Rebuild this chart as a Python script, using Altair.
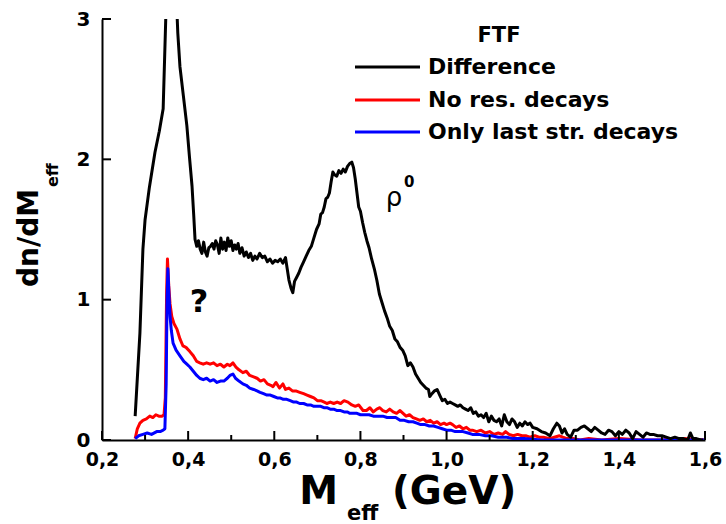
import altair as alt
import pandas as pd

# ---------------- data ----------------
diff_x = [0.277, 0.288, 0.295, 0.300, 0.310, 0.323, 0.333, 0.342, 0.348, 0.352, 0.358, 0.366, 0.372, 0.376,
          0.381, 0.389, 0.397, 0.403, 0.409, 0.413, 0.416, 0.420, 0.424, 0.428, 0.432, 0.436, 0.440, 0.444,
          0.448, 0.452, 0.456, 0.460, 0.464, 0.468, 0.472, 0.476, 0.480, 0.484, 0.488, 0.492, 0.496, 0.500,
          0.504, 0.508, 0.512, 0.516, 0.520, 0.525, 0.530, 0.535, 0.540, 0.545, 0.550, 0.555, 0.560, 0.566,
          0.572, 0.578, 0.584, 0.590, 0.596, 0.602, 0.608, 0.614, 0.620, 0.626, 0.630, 0.634, 0.639, 0.643,
          0.647, 0.652, 0.657, 0.662, 0.668, 0.674, 0.680, 0.686, 0.692, 0.698, 0.704, 0.708, 0.712, 0.716,
          0.720, 0.724, 0.728, 0.732, 0.736, 0.740, 0.745, 0.750, 0.755, 0.760, 0.765, 0.770, 0.775, 0.780,
          0.784, 0.788, 0.792, 0.796, 0.800, 0.805, 0.810, 0.815, 0.820, 0.826, 0.833, 0.838, 0.844, 0.850,
          0.856, 0.862, 0.868, 0.874, 0.880, 0.886, 0.892, 0.898, 0.904, 0.910, 0.916, 0.922, 0.928, 0.934,
          0.940, 0.946, 0.952, 0.958, 0.961, 0.966, 0.972, 0.978, 0.984, 0.990, 0.996, 1.002, 1.008, 1.014,
          1.020, 1.026, 1.032, 1.038, 1.044, 1.050, 1.056, 1.062, 1.068, 1.074, 1.080, 1.086, 1.092, 1.098,
          1.104, 1.110, 1.116, 1.122, 1.128, 1.134, 1.140, 1.146, 1.152, 1.158, 1.164, 1.170, 1.176, 1.182,
          1.188, 1.194, 1.200, 1.210, 1.220, 1.230, 1.240, 1.248, 1.256, 1.262, 1.268, 1.274, 1.280, 1.288,
          1.296, 1.304, 1.312, 1.320, 1.328, 1.336, 1.344, 1.352, 1.360, 1.368, 1.376, 1.384, 1.392, 1.400,
          1.408, 1.416, 1.424, 1.432, 1.440, 1.448, 1.456, 1.464, 1.472, 1.480, 1.490, 1.500, 1.510, 1.520,
          1.530, 1.540, 1.550, 1.560, 1.566, 1.572, 1.580, 1.590, 1.596]
diff_y = [0.17, 0.76, 1.36, 1.57, 1.80, 2.05, 2.20, 2.36, 3.00, 3.80, 4.30, 4.00, 3.20, 2.90,
          2.66, 2.45, 2.24, 2.02, 1.81, 1.60, 1.43, 1.38, 1.42, 1.36, 1.33, 1.41, 1.34, 1.31,
          1.37, 1.38, 1.40, 1.36, 1.42, 1.39, 1.33, 1.44, 1.36, 1.41, 1.35, 1.44, 1.38, 1.42,
          1.35, 1.39, 1.36, 1.40, 1.33, 1.37, 1.31, 1.34, 1.30, 1.33, 1.28, 1.31, 1.29, 1.33,
          1.30, 1.31, 1.27, 1.29, 1.26, 1.28, 1.27, 1.29, 1.26, 1.30, 1.22, 1.14, 1.08, 1.05,
          1.13, 1.16, 1.19, 1.23, 1.27, 1.31, 1.35, 1.38, 1.44, 1.50, 1.54, 1.61, 1.62, 1.66,
          1.72, 1.73, 1.76, 1.84, 1.91, 1.89, 1.88, 1.92, 1.90, 1.93, 1.91, 1.95, 1.97, 1.98,
          1.94, 1.86, 1.76, 1.66, 1.63, 1.55, 1.48, 1.42, 1.37, 1.29, 1.21, 1.14, 1.04, 0.98,
          0.92, 0.87, 0.81, 0.78, 0.72, 0.70, 0.66, 0.64, 0.60, 0.53, 0.55, 0.52, 0.47, 0.44,
          0.41, 0.39, 0.37, 0.36, 0.31, 0.33, 0.35, 0.36, 0.32, 0.28, 0.29, 0.26, 0.27, 0.26,
          0.25, 0.24, 0.25, 0.23, 0.22, 0.21, 0.23, 0.19, 0.20, 0.17, 0.18, 0.16, 0.19, 0.13,
          0.17, 0.14, 0.13, 0.15, 0.10, 0.18, 0.13, 0.11, 0.15, 0.13, 0.09, 0.12, 0.10, 0.13,
          0.11, 0.12, 0.09, 0.08, 0.06, 0.05, 0.03, 0.08, 0.12, 0.10, 0.05, 0.08, 0.04, 0.02,
          0.07, 0.07, 0.09, 0.10, 0.08, 0.06, 0.09, 0.07, 0.05, 0.04, 0.07, 0.06, 0.03, 0.06,
          0.04, 0.07, 0.05, 0.01, 0.06, 0.04, 0.02, 0.05, 0.04, 0.04, 0.03, 0.03, 0.02, 0.01,
          0.02, 0.01, 0.01, 0.00, 0.05, 0.01, 0.01, 0.00, 0.00]

nores_x = [0.277, 0.282, 0.288, 0.295, 0.303, 0.311, 0.318, 0.325, 0.332, 0.339, 0.344, 0.347, 0.350, 0.352,
           0.355, 0.358, 0.362, 0.367, 0.374, 0.381, 0.388, 0.395, 0.404, 0.412, 0.420, 0.427, 0.435, 0.443,
           0.451, 0.459, 0.467, 0.475, 0.483, 0.491, 0.497, 0.504, 0.511, 0.518, 0.527, 0.535, 0.543, 0.552,
           0.560, 0.568, 0.576, 0.584, 0.592, 0.597, 0.604, 0.612, 0.620, 0.626, 0.634, 0.642, 0.650, 0.659,
           0.668, 0.676, 0.684, 0.692, 0.700, 0.708, 0.716, 0.722, 0.730, 0.738, 0.746, 0.754, 0.762, 0.771,
           0.780, 0.788, 0.796, 0.806, 0.814, 0.822, 0.830, 0.838, 0.845, 0.852, 0.860, 0.868, 0.876, 0.884,
           0.892, 0.899, 0.906, 0.914, 0.922, 0.930, 0.938, 0.946, 0.954, 0.962, 0.970, 0.978, 0.986, 0.994,
           1.000, 1.008, 1.014, 1.022, 1.030, 1.038, 1.046, 1.054, 1.060, 1.070, 1.080, 1.090, 1.100, 1.110,
           1.120, 1.130, 1.137, 1.145, 1.155, 1.165, 1.175, 1.185, 1.193, 1.205, 1.215, 1.225, 1.240, 1.250,
           1.262, 1.270, 1.280, 1.293, 1.310, 1.330, 1.360, 1.400, 1.450, 1.500, 1.550, 1.600]
nores_y = [0.01, 0.08, 0.12, 0.14, 0.15, 0.17, 0.16, 0.18, 0.17, 0.17, 0.18, 0.30, 1.05, 1.29,
           1.10, 0.97, 0.88, 0.83, 0.79, 0.72, 0.67, 0.66, 0.63, 0.60, 0.56, 0.55, 0.54, 0.55,
           0.54, 0.55, 0.53, 0.54, 0.52, 0.54, 0.53, 0.55, 0.52, 0.50, 0.48, 0.49, 0.46, 0.45,
           0.44, 0.42, 0.43, 0.40, 0.39, 0.38, 0.41, 0.37, 0.40, 0.36, 0.37, 0.35, 0.35, 0.34,
           0.33, 0.32, 0.31, 0.30, 0.28, 0.28, 0.27, 0.26, 0.27, 0.26, 0.27, 0.26, 0.28, 0.27,
           0.25, 0.24, 0.25, 0.21, 0.21, 0.23, 0.20, 0.22, 0.23, 0.21, 0.20, 0.22, 0.20, 0.19,
           0.21, 0.19, 0.17, 0.18, 0.16, 0.15, 0.14, 0.15, 0.13, 0.14, 0.12, 0.13, 0.11, 0.12,
           0.11, 0.12, 0.11, 0.09, 0.10, 0.08, 0.09, 0.07, 0.07, 0.06, 0.07, 0.05, 0.06, 0.04,
           0.05, 0.04, 0.06, 0.04, 0.03, 0.04, 0.03, 0.03, 0.02, 0.03, 0.02, 0.02, 0.01, 0.02,
           0.03, 0.02, 0.01, 0.01, 0.00, 0.01, 0.00, 0.01, 0.00, 0.00, 0.01, 0.00]

last_x = [0.277, 0.285, 0.295, 0.305, 0.315, 0.327, 0.335, 0.342, 0.346, 0.349, 0.351, 0.353, 0.356, 0.358,
          0.361, 0.365, 0.372, 0.381, 0.390, 0.397, 0.404, 0.412, 0.420, 0.427, 0.435, 0.443, 0.451, 0.459,
          0.467, 0.475, 0.483, 0.491, 0.497, 0.504, 0.510, 0.518, 0.527, 0.535, 0.543, 0.552, 0.560, 0.567,
          0.575, 0.583, 0.591, 0.599, 0.607, 0.613, 0.621, 0.629, 0.637, 0.645, 0.652, 0.659, 0.668, 0.676,
          0.684, 0.692, 0.700, 0.708, 0.715, 0.722, 0.730, 0.738, 0.746, 0.754, 0.762, 0.770, 0.775, 0.784,
          0.792, 0.800, 0.810, 0.820, 0.830, 0.840, 0.852, 0.862, 0.872, 0.882, 0.892, 0.902, 0.912, 0.922,
          0.931, 0.940, 0.950, 0.960, 0.970, 0.980, 0.990, 1.000, 1.010, 1.020, 1.030, 1.038, 1.050, 1.060,
          1.075, 1.090, 1.105, 1.120, 1.140, 1.154, 1.180, 1.220, 1.300, 1.400, 1.500, 1.600]
last_y = [0.01, 0.03, 0.04, 0.05, 0.04, 0.06, 0.06, 0.07, 0.08, 0.40, 1.00, 1.22, 1.00, 0.88,
          0.78, 0.69, 0.64, 0.60, 0.56, 0.54, 0.52, 0.49, 0.46, 0.44, 0.43, 0.44, 0.42, 0.43,
          0.41, 0.42, 0.42, 0.44, 0.46, 0.47, 0.44, 0.42, 0.40, 0.39, 0.37, 0.36, 0.35, 0.34,
          0.33, 0.32, 0.32, 0.31, 0.30, 0.30, 0.29, 0.29, 0.28, 0.27, 0.27, 0.26, 0.26, 0.25,
          0.25, 0.24, 0.24, 0.24, 0.23, 0.23, 0.22, 0.22, 0.21, 0.21, 0.20, 0.20, 0.19, 0.19,
          0.19, 0.18, 0.18, 0.18, 0.17, 0.17, 0.17, 0.16, 0.16, 0.16, 0.14, 0.14, 0.13, 0.13,
          0.12, 0.11, 0.11, 0.10, 0.10, 0.09, 0.08, 0.07, 0.07, 0.06, 0.06, 0.06, 0.05, 0.04,
          0.04, 0.03, 0.03, 0.02, 0.02, 0.01, 0.01, 0.00, 0.00, 0.00, 0.00, 0.00]

series_names = ["Difference", "No res. decays", "Only last str. decays"]
series_colors = ["#000000", "#ff0000", "#0000ff"]
legend_title = "FTF"

x_major = [0.2, 0.4, 0.6, 0.8, 1.0, 1.2, 1.4, 1.6]
x_minor = [0.3, 0.5, 0.7, 0.9, 1.1, 1.3, 1.5]
y_ticks = [0, 1, 2, 3]

# ---------------- chart ----------------
W, H = 603, 421
FONT = "DejaVu Sans"

xs = alt.Scale(domain=[0.2, 1.6], nice=False, zero=False)
ys = alt.Scale(domain=[0, 3], nice=False, zero=False)

x_axis = alt.Axis(values=x_major, ticks=False, tickSize=0, grid=False, title=None,
                  labelExpr="replace(format(datum.value, '.1f'), '.', ',')",
                  labelFont=FONT, labelFontWeight="bold", labelFontSize=19, labelColor="#000",
                  labelPadding=10, domainColor="#000", domainWidth=2, labelFlush=False)
y_axis = alt.Axis(values=y_ticks, ticks=False, tickSize=0, grid=False, title=None, format="d",
                  labelFont=FONT, labelFontWeight="bold", labelFontSize=20, labelColor="#000",
                  labelPadding=12, domainColor="#000", domainWidth=2, labelFlush=False)

X = lambda f: alt.X(f, scale=xs, axis=x_axis)
Y = lambda f: alt.Y(f, scale=ys, axis=y_axis)


def curve(xv, yv, color):
    df = pd.DataFrame({"x": xv, "y": yv})
    return alt.Chart(df).mark_line(color=color, strokeWidth=3, clip=True, strokeJoin="round").encode(
        x=X("x:Q"), y=Y("y:Q"))


red = curve(nores_x, nores_y, series_colors[1])
blue = curve(last_x, last_y, series_colors[2])
black = curve(diff_x, diff_y, series_colors[0])

# inward tick marks
xmaj = alt.Chart(pd.DataFrame({"x": x_major})).mark_rule(color="#000", strokeWidth=2).encode(
    x=X("x:Q"), y=alt.value(H), y2=alt.value(H - 9))
xmin = alt.Chart(pd.DataFrame({"x": x_minor})).mark_rule(color="#000", strokeWidth=2).encode(
    x=X("x:Q"), y=alt.value(H), y2=alt.value(H - 5))
ytk = alt.Chart(pd.DataFrame({"y": y_ticks})).mark_rule(color="#000", strokeWidth=2).encode(
    y=Y("y:Q"), x=alt.value(0), x2=alt.value(9))

# annotations in data coordinates
q = alt.Chart(pd.DataFrame({"x": [0.425], "y": [0.914], "t": ["?"]})).mark_text(
    font=FONT, fontWeight="bold", fontSize=32, align="center", baseline="alphabetic", color="#000"
).encode(x=X("x:Q"), y=Y("y:Q"), text="t:N")
rho = alt.Chart(pd.DataFrame({"x": [0.859], "y": [1.671], "t": ["ρ"]})).mark_text(
    font=FONT, fontSize=26, align="left", baseline="alphabetic", color="#000"
).encode(x=X("x:Q"), y=Y("y:Q"), text="t:N")
rho0 = alt.Chart(pd.DataFrame({"x": [0.901], "y": [1.80], "t": ["0"]})).mark_text(
    font=FONT, fontWeight="bold", fontSize=15, align="left", baseline="alphabetic", color="#000"
).encode(x=X("x:Q"), y=Y("y:Q"), text="t:N")


def label(text, x, y, size, align="left", angle=None, weight="bold", baseline="alphabetic"):
    kw = dict(font=FONT, fontWeight=weight, fontSize=size, align=align, baseline=baseline, color="#000")
    if angle is not None:
        kw["angle"] = angle
    return alt.Chart(pd.DataFrame({"t": [text]})).mark_text(**kw).encode(
        text="t:N", x=alt.value(x), y=alt.value(y))


# axis titles with subscripts
xt_M = label("M", 236, 485, 39, align="right")
xt_eff = label("eff", 245, 501, 21)
xt_gev = label("(GeV)", 290, 485, 39, align="left")
yt_main = label("dn/dM", -64, 268, 28, align="left", angle=270)
yt_eff = label("eff", -44, 168, 16, align="left", angle=270)

# legend (drawn)
leg_layers = [label(legend_title, 397, 23, 21, align="center")]
leg_y = [48, 81, 113]
for name, col, yy in zip(series_names, series_colors, leg_y):
    leg_layers.append(
        alt.Chart(pd.DataFrame({"n": [name]})).mark_rule(color=col, strokeWidth=3).encode(
            x=alt.value(253), x2=alt.value(318), y=alt.value(yy)))
    leg_layers.append(label(name, 326, yy, 22, align="left", baseline="middle"))

chart = alt.layer(
    red, blue, black, xmaj, xmin, ytk, q, rho, rho0,
    xt_M, xt_eff, xt_gev, yt_main, yt_eff, *leg_layers
).properties(
    width=W, height=H,
    autosize=alt.AutoSizeParams(type="none"),
    padding={"left": 102, "top": 19, "right": 21, "bottom": 84},
    background="white",
).configure_view(stroke=None)

chart.save("out.html", embed_options={"renderer": "svg", "actions": False})
